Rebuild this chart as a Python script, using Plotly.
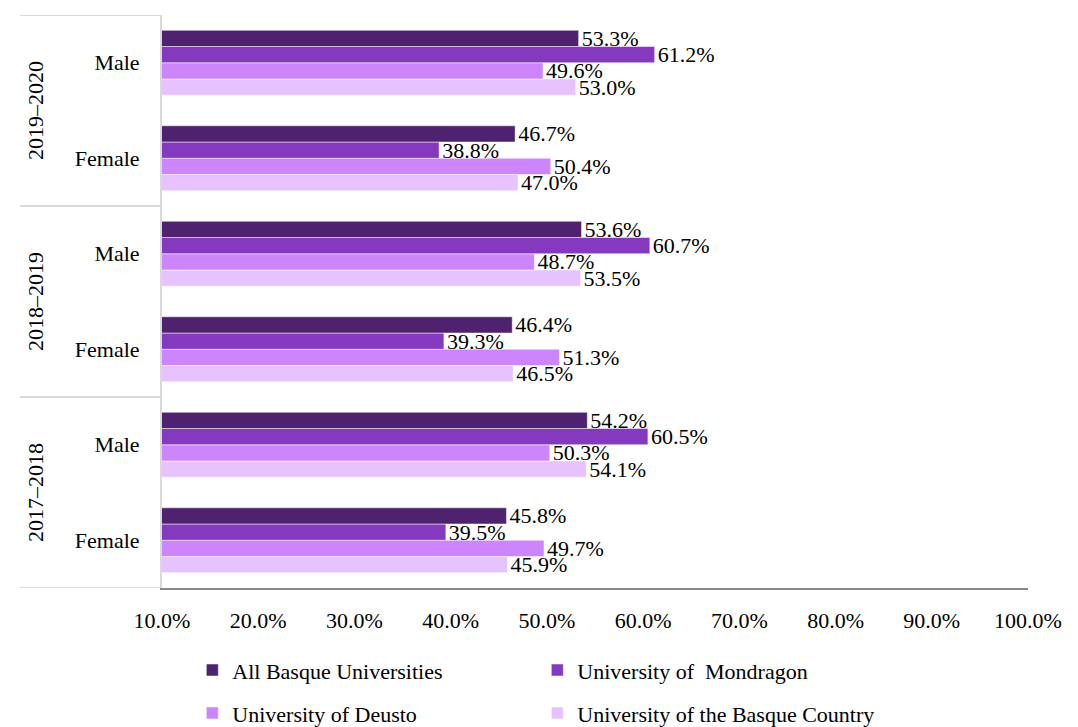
import plotly.graph_objects as go

years = ["2017–2018", "2017–2018", "2018–2019", "2018–2019", "2019–2020", "2019–2020"]
genders = ["Female", "Male", "Female", "Male", "Female", "Male"]
year_groups = ["2017–2018", "2018–2019", "2019–2020"]

series_names = ["All Basque Universities", "University of  Mondragon",
                "University of Deusto", "University of the Basque Country"]
all_basque = [45.8, 54.2, 46.4, 53.6, 46.7, 53.3]
mondragon = [39.5, 60.5, 39.3, 60.7, 38.8, 61.2]
deusto = [49.7, 50.3, 51.3, 48.7, 50.4, 49.6]
upv = [45.9, 54.1, 46.5, 53.5, 47.0, 53.0]

tick_vals = [10, 20, 30, 40, 50, 60, 70, 80, 90, 100]
tick_text = ["10.0%", "20.0%", "30.0%", "40.0%", "50.0%", "60.0%", "70.0%", "80.0%", "90.0%", "100.0%"]

colors = ["#4f226f", "#8439be", "#cd85fd", "#e6c3fe"]
values = [all_basque, mondragon, deusto, upv]
legends = ["legend", "legend", "legend2", "legend2"]

categories = [f"{y} {g}" for y, g in zip(years, genders)]

FONT = "Liberation Serif"
FS = 22
fig = go.Figure()
# add in reverse so the first series sits at the top of each group
for i in [3, 2, 1, 0]:
    fig.add_trace(go.Bar(
        y=categories, x=values[i], orientation="h",
        name=series_names[i],
        marker=dict(color=colors[i], line=dict(color="rgba(255,255,255,0.5)", width=1)),
        texttemplate="%{x:.1f}%", textposition="outside", constraintext="none",
        cliponaxis=False, textfont=dict(family=FONT, size=FS, color="#000000"),
        legend=legends[i],
    ))

shapes = []
n = len(categories)
# group dividers in the label area
for k in range(0, n + 1, 2):
    shapes.append(dict(type="line", xref="paper", yref="y", x0=-0.164, x1=0,
                       y0=k - 0.5, y1=k - 0.5, line=dict(color="#d9d9d9", width=2)))

annotations = []
for j, yg in enumerate(year_groups):
    annotations.append(dict(text=yg, xref="paper", yref="y", x=-0.146, y=2 * j + 0.5,
                            textangle=-90, showarrow=False, xanchor="center", yanchor="middle",
                            font=dict(family=FONT, size=FS, color="#000000")))

fig.update_layout(
    width=1078, height=727,
    margin=dict(l=154, r=58, t=7, b=147),
    paper_bgcolor="white", plot_bgcolor="white",
    barmode="group", bargap=0.32, bargroupgap=0,
    font=dict(family=FONT, size=FS, color="#000000"),
    showlegend=True,
    shapes=shapes, annotations=annotations,
    legend=dict(orientation="h", x=0.035, xanchor="left", yref="container", y=0.118, yanchor="top",
                entrywidth=300, entrywidthmode="pixels", traceorder="reversed", itemwidth=30,
                font=dict(family=FONT, size=FS)),
    legend2=dict(orientation="h", x=0.035, xanchor="left", yref="container", y=0.059, yanchor="top",
                 entrywidth=300, entrywidthmode="pixels", traceorder="reversed", itemwidth=30,
                 font=dict(family=FONT, size=FS)),
    xaxis=dict(range=[10, 100], tickvals=tick_vals, ticktext=tick_text, showgrid=False, zeroline=False,
               showline=True, linecolor="#898989", linewidth=2, ticks="", ticklabelstandoff=12,
               automargin=False, tickfont=dict(family=FONT, size=FS)),
    yaxis=dict(type="category", tickvals=categories, ticktext=genders, showline=True,
               linecolor="#d9d9d9", linewidth=2, ticks="", ticklabelstandoff=16,
               range=[-0.5, n - 0.5], automargin=False,
               showgrid=False, tickfont=dict(family=FONT, size=FS)),
)

fig.write_html("out.html")
